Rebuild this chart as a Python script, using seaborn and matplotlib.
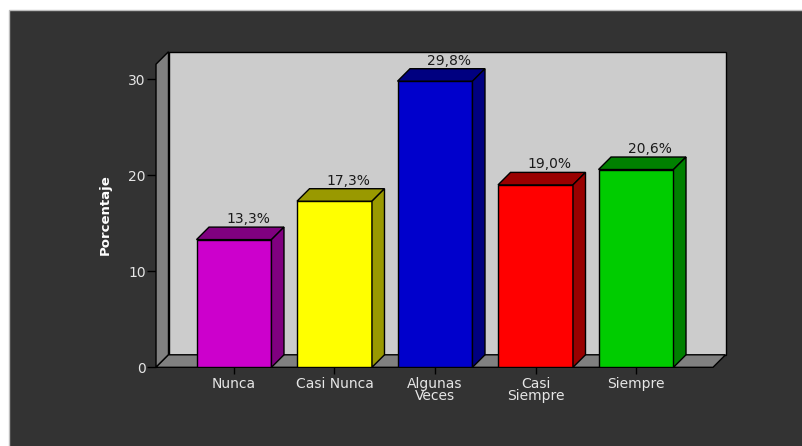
import numpy as np
import pandas as pd
import seaborn as sns
import matplotlib
matplotlib.use("Agg")
import matplotlib.pyplot as plt
from matplotlib.patches import Polygon, Rectangle
from matplotlib.transforms import IdentityTransform

# Chart data
categories = ["Nunca", "Casi Nunca", "Algunas\nVeces", "Casi\nSiempre", "Siempre"]
percentages = [13.3, 17.3, 29.8, 19.0, 20.6]
value_labels = ["13,3%", "17,3%", "29,8%", "19,0%", "20,6%"]
face_colors = ["#cc00cc", "#ffff00", "#0000cc", "#ff0000", "#00cc00"]
shade_colors = ["#800080", "#999900", "#000080", "#990000", "#008000"]
y_ticks = [0, 10, 20, 30]

DPI = 100
W, H = 802, 446
DEPTH = 12.5  # 3D depth offset in pixels

sns.set_style("white")
plt.rcParams["font.family"] = ["DejaVu Sans"]

fig = plt.figure(figsize=(W / DPI, H / DPI), dpi=DPI)
fig.patch.set_facecolor("white")
# dark chart panel, bordered on the top and left only
fig.patches.append(Rectangle((9 / W, -0.02), 1.05, (H - 10) / H + 0.02,
                             transform=fig.transFigure, facecolor="#333333",
                             edgecolor="#bdbdbd", lw=1, zorder=-1))

# front plane of the box (pixels, top-left origin)
L, R, B, T = 156, 713, 367.3, 64.2
ax = fig.add_axes([L / W, (H - B) / H, (R - L) / W, (B - T) / H])
ax.set_facecolor("none")

df = pd.DataFrame({"Categoria": categories, "Porcentaje": percentages})
sns.barplot(data=df, x="Categoria", y="Porcentaje", hue="Categoria",
            palette=face_colors, legend=False, width=0.746, saturation=1,
            edgecolor="black", linewidth=1, ax=ax)

ax.set_xlim(-0.776, 4.766)
ax.set_ylim(0, 31.57)

bars = list(ax.patches)
for p in bars:
    p.set_zorder(3)

ident = IdentityTransform()
(x0, y0), (x1, y1) = ax.transAxes.transform([(0, 0), (1, 1)])
D = DEPTH


def add_poly(pts, fc, z):
    poly = Polygon(pts, closed=True, facecolor=fc, edgecolor="black",
                   lw=1, transform=ident, clip_on=False, zorder=z)
    ax.add_artist(poly)


# back wall, left wall and floor
add_poly([(x0 + D, y0 + D), (x1 + D, y0 + D), (x1 + D, y1 + D), (x0 + D, y1 + D)], "#cccccc", 0.5)
add_poly([(x0, y0), (x0, y1), (x0 + D, y1 + D), (x0 + D, y0 + D)], "#808080", 0.6)
add_poly([(x0, y0), (x1, y0), (x1 + D, y0 + D), (x0 + D, y0 + D)], "#808080", 0.7)

# top and side faces of each bar, plus value labels
for p, shade, lab in zip(bars, shade_colors, value_labels):
    x, w, h = p.get_x(), p.get_width(), p.get_height()
    fl = ax.transData.transform((x, h))
    fr = ax.transData.transform((x + w, h))
    br = ax.transData.transform((x + w, 0))
    add_poly([fl, fr, fr + D, fl + D], shade, 3.1)
    add_poly([br, fr, fr + D, br + D], shade, 3.1)
    ax.annotate(lab, xy=(x + w / 2, h), xytext=(14, D + 8),
                textcoords="offset pixels", ha="center", va="center",
                fontsize=10, color="#1a1a1a", zorder=2.5,
                annotation_clip=False)

for s in ax.spines.values():
    s.set_visible(False)

ax.set_yticks(y_ticks)
ax.set_yticklabels([str(t) for t in y_ticks])
ax.set_xticks(range(len(categories)))
ax.set_xticklabels(categories, linespacing=0.85)
ax.tick_params(axis="y", left=True, length=6.5, width=1, color="black",
               labelcolor="#e6e6e6", labelsize=10, pad=1)
ax.tick_params(axis="x", bottom=True, length=5, width=1, color="black",
               labelcolor="#e6e6e6", labelsize=10, pad=2)

ax.set_xlabel("")
ax.set_ylabel("Porcentaje", fontweight="bold", color="white", fontsize=9.5)
ax.yaxis.set_label_coords(-0.08, 0.5025)

ax.set_xlim(-0.776, 4.766)
ax.set_ylim(0, 31.57)

fig.savefig("out.png", dpi=DPI, facecolor=fig.get_facecolor())
